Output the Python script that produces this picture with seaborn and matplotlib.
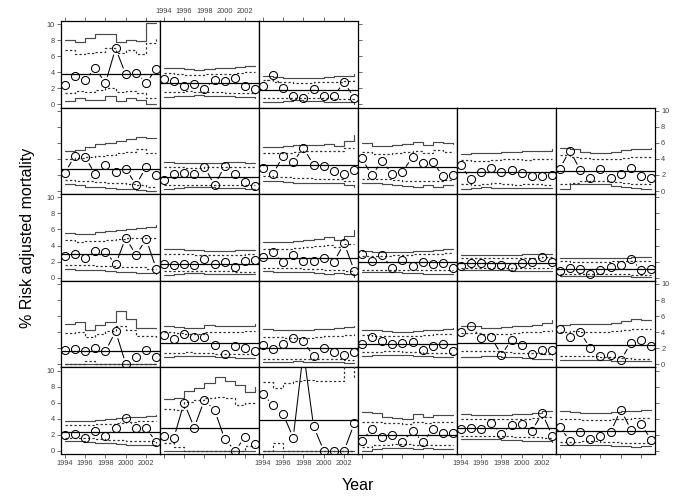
import matplotlib
matplotlib.use("Agg")
import matplotlib.pyplot as plt
import numpy as np
import pandas as pd
import seaborn as sns

YEARS = list(range(1994, 2004))
X_TICKS = [1994, 1996, 1998, 2000, 2002]
Y_TICKS = [0, 2, 4, 6, 8, 10]

# panel cells (row, col) from the top-left; top row holds only three panels
PANEL_CELLS = [(0, 0), (0, 1), (0, 2)] + [(r, c) for r in range(1, 5) for c in range(6)]

# observed risk adjusted mortality (%) per panel
OBSERVED = [
    [2.48, 3.57, 3.0, 4.58, 2.65, 7.0, 3.74, 3.95, 2.7, 4.45],
    [3.2, 2.95, 2.27, 2.6, 1.97, 3.07, 2.9, 3.28, 2.3, 1.97],
    [2.27, 3.7, 2.1, 1.1, 0.8, 1.9, 1.05, 1.1, 2.77, 0.8],
    [2.24, 4.36, 4.28, 2.07, 3.28, 2.36, 2.74, 0.78, 2.95, 1.95],
    [1.36, 2.07, 2.2, 2.07, 3.03, 0.7, 3.15, 2.07, 1.07, 0.6],
    [2.9, 2.1, 4.36, 3.65, 5.4, 3.24, 3.07, 2.53, 2.07, 2.6],
    [4.1, 1.96, 3.7, 2.17, 2.4, 4.25, 3.55, 3.6, 1.83, 1.96],
    [3.2, 1.46, 2.37, 2.9, 2.37, 2.67, 2.2, 1.83, 1.87, 2.0],
    [2.8, 5.04, 2.67, 1.58, 2.75, 1.67, 2.13, 2.9, 1.92, 1.63],
    [2.72, 2.88, 2.43, 3.3, 3.25, 1.65, 4.98, 2.8, 4.81, 1.07],
    [1.69, 1.56, 1.69, 1.56, 2.3, 1.69, 1.9, 1.32, 2.1, 2.14],
    [2.55, 3.25, 1.98, 2.76, 2.06, 2.06, 2.43, 1.98, 4.28, 0.86],
    [3.0, 2.13, 2.76, 1.18, 2.18, 1.47, 2.0, 1.68, 1.88, 1.18],
    [1.5, 1.88, 1.84, 1.59, 1.59, 1.26, 1.8, 2.0, 2.55, 2.0],
    [0.8, 1.18, 1.13, 0.47, 0.93, 1.34, 1.59, 2.34, 0.93, 1.13],
    [1.75, 1.95, 1.6, 2.05, 1.6, 4.1, 0.04, 0.95, 1.8, 0.92],
    [3.67, 3.17, 3.7, 3.38, 3.38, 2.38, 1.3, 2.25, 2.05, 1.7],
    [2.38, 1.84, 2.46, 3.3, 2.84, 1.0, 1.97, 1.5, 1.09, 1.55],
    [2.47, 3.35, 2.89, 2.51, 2.68, 2.72, 1.8, 2.26, 2.47, 1.63],
    [3.97, 4.77, 3.26, 3.35, 1.17, 3.05, 2.43, 1.3, 1.72, 1.8],
    [4.35, 3.39, 4.06, 1.97, 1.05, 1.13, 0.46, 2.68, 3.05, 2.26],
    [2.0, 2.08, 1.58, 2.5, 1.83, 2.8, 4.13, 2.83, 2.83, 1.04],
    [1.8, 1.58, 6.0, 2.88, 6.33, 5.04, 1.46, 0.0, 1.7, 0.83],
    [7.08, 5.7, 4.58, 1.63, 12.4, 3.04, 0.0, 0.0, 0.0, 3.42],
    [1.22, 2.72, 1.68, 1.97, 1.14, 2.47, 1.1, 2.68, 2.26, 2.22],
    [2.68, 2.8, 2.76, 3.5, 2.05, 3.17, 3.38, 2.51, 4.67, 1.85],
    [2.93, 1.27, 2.3, 1.47, 1.8, 2.3, 5.12, 2.63, 3.3, 1.35],
]

CENTER = [3.82, 2.65, 1.8, 2.7, 1.78, 3.2, 2.95, 2.37, 2.55, 3.0, 1.73, 2.39, 1.93,
          1.84, 1.13, 1.65, 2.67, 1.97, 2.47, 2.68, 2.43, 2.38, 2.79, 3.83, 1.97,
          2.88, 2.47]

UPPER_OUTER = [
    [8.1, 7.8, 8.3, 8.85, 8.8, 7.8, 8.1, 7.9, 10.2, 10.2],
    [4.6, 4.5, 4.4, 4.35, 4.4, 4.5, 4.55, 4.65, 4.75, 4.8],
    [3.6, 3.45, 3.35, 3.3, 3.3, 3.35, 3.45, 3.5, 3.6, 3.75],
    [5.0, 5.15, 5.5, 5.9, 6.05, 6.3, 6.5, 6.7, 6.6, 6.6],
    [3.65, 3.55, 3.5, 3.5, 3.55, 3.55, 3.6, 3.6, 3.55, 3.5],
    [5.45, 5.5, 5.65, 5.75, 5.8, 5.8, 5.85, 5.6, 6.2, 7.0],
    [5.95, 5.6, 5.65, 5.75, 5.85, 6.1, 5.75, 6.1, 5.95, 5.85],
    [4.65, 4.8, 4.75, 4.8, 4.85, 4.9, 5.0, 4.95, 5.05, 5.2],
    [5.4, 5.2, 4.9, 4.8, 4.7, 4.9, 5.1, 5.3, 5.3, 5.35],
    [5.5, 5.4, 5.45, 5.65, 5.8, 5.95, 6.05, 6.15, 6.3, 6.6],
    [3.6, 3.55, 3.45, 3.4, 3.35, 3.35, 3.35, 3.4, 3.45, 3.45],
    [4.45, 4.4, 4.4, 4.55, 4.7, 4.85, 5.1, 4.7, 5.15, 5.9],
    [3.3, 3.25, 3.2, 3.2, 3.25, 3.3, 3.35, 3.45, 3.55, 3.55],
    [2.85, 2.8, 2.8, 2.8, 2.85, 2.85, 2.9, 2.95, 2.95, 2.95],
    [2.45, 2.45, 2.4, 2.4, 2.4, 2.45, 2.5, 2.55, 2.55, 2.6],
    [5.05, 5.2, 4.3, 4.85, 5.3, 6.65, 5.65, 4.45, 4.5, 4.5],
    [4.75, 4.6, 4.45, 4.45, 4.9, 4.8, 4.7, 4.75, 4.8, 5.05],
    [4.35, 4.3, 4.25, 4.2, 4.25, 4.35, 4.4, 4.5, 4.6, 4.75],
    [4.25, 4.2, 4.1, 4.05, 4.0, 4.1, 4.2, 4.3, 4.4, 4.5],
    [4.75, 4.7, 4.55, 4.5, 4.6, 4.7, 4.75, 4.85, 5.15, 5.45],
    [4.9, 5.0, 5.05, 4.95, 5.0, 5.15, 5.35, 5.6, 5.45, 5.45],
    [3.75, 3.75, 3.75, 3.85, 3.95, 4.05, 4.15, 4.25, 4.3, 4.45],
    [6.4, 6.6, 7.4, 7.8, 8.5, 9.15, 8.75, 8.2, 7.3, 7.9],
    [12.5, 12.0, 12.3, 12.6, 12.8, 12.7, 12.7, 12.7, 14.0, 12.9],
    [4.8, 4.65, 4.2, 4.1, 4.0, 4.55, 4.2, 4.5, 4.45, 4.45],
    [4.55, 4.5, 4.5, 4.45, 4.5, 4.55, 4.6, 4.75, 4.95, 5.0],
    [4.95, 4.85, 4.75, 4.7, 4.75, 4.85, 4.9, 4.95, 5.05, 5.1],
]

UPPER_INNER = [
    [6.75, 6.35, 6.45, 6.55, 7.05, 6.4, 6.75, 6.35, 7.7, 8.2],
    [3.9, 3.75, 3.65, 3.65, 3.75, 3.8, 3.85, 3.95, 4.0, 4.05],
    [3.0, 2.85, 2.75, 2.7, 2.7, 2.75, 2.8, 2.85, 2.95, 3.1],
    [4.0, 4.1, 4.25, 4.4, 4.55, 4.7, 4.85, 5.2, 4.8, 4.8],
    [3.0, 2.95, 2.9, 2.9, 2.95, 2.95, 3.0, 3.0, 2.95, 2.95],
    [4.7, 4.7, 4.8, 4.9, 4.95, 4.95, 5.0, 4.95, 5.35, 5.35],
    [4.9, 4.65, 4.65, 4.75, 4.85, 5.05, 4.8, 5.1, 4.9, 4.85],
    [3.9, 3.8, 3.75, 3.85, 3.95, 4.0, 3.9, 3.95, 4.05, 4.05],
    [4.45, 4.25, 4.1, 4.0, 3.95, 4.05, 4.15, 4.2, 4.2, 4.25],
    [4.75, 4.45, 4.55, 4.6, 4.7, 4.8, 4.9, 4.95, 5.0, 5.05],
    [3.0, 2.95, 2.9, 2.85, 2.8, 2.8, 2.8, 2.85, 2.9, 2.9],
    [3.6, 3.55, 3.6, 3.7, 3.8, 3.9, 4.05, 3.85, 4.15, 4.25],
    [2.75, 2.75, 2.75, 2.8, 2.85, 2.9, 2.95, 3.0, 3.05, 3.1],
    [2.45, 2.4, 2.4, 2.4, 2.45, 2.45, 2.5, 2.5, 2.55, 2.55],
    [2.05, 2.0, 2.0, 2.0, 2.0, 2.05, 2.05, 2.1, 2.1, 2.1],
    [3.9, 3.95, 3.4, 3.8, 4.1, 4.8, 4.3, 3.5, 3.55, 3.3],
    [4.0, 3.85, 3.75, 3.8, 4.0, 4.05, 4.0, 4.05, 4.1, 4.1],
    [3.35, 3.35, 3.3, 3.3, 3.3, 3.4, 3.45, 3.55, 3.6, 3.7],
    [3.6, 3.55, 3.5, 3.45, 3.45, 3.5, 3.6, 3.7, 3.75, 3.8],
    [3.9, 3.85, 3.75, 3.75, 3.8, 3.85, 3.95, 4.0, 4.1, 4.2],
    [4.05, 4.1, 4.05, 4.0, 4.05, 4.15, 4.25, 4.35, 4.35, 4.4],
    [3.25, 3.25, 3.25, 3.3, 3.35, 3.5, 3.6, 3.65, 3.65, 3.65],
    [5.15, 5.1, 6.1, 6.3, 6.6, 6.7, 6.55, 5.7, 5.9, 6.0],
    [8.6, 7.85, 8.45, 8.65, 8.85, 8.75, 8.75, 8.75, 11.5, 8.9],
    [3.6, 3.55, 3.4, 3.4, 3.35, 3.6, 3.45, 3.6, 3.55, 3.55],
    [3.95, 3.9, 3.9, 3.9, 3.9, 3.95, 4.0, 4.1, 4.2, 4.25],
    [3.95, 3.9, 3.85, 3.85, 3.85, 3.95, 4.0, 4.05, 4.1, 4.1],
]

LOWER_INNER = [
    [1.4, 1.65, 1.5, 1.75, 2.0, 1.5, 1.7, 1.45, 0.85, 0.85],
    [1.55, 1.6, 1.65, 1.6, 1.55, 1.5, 1.45, 1.45, 1.4, 1.35],
    [0.75, 0.8, 0.85, 0.85, 0.8, 0.75, 0.75, 0.7, 0.65, 0.6],
    [1.35, 1.3, 1.2, 1.1, 1.0, 0.95, 0.85, 0.75, 0.5, 0.6],
    [0.75, 0.8, 0.8, 0.8, 0.8, 0.75, 0.75, 0.7, 0.7, 0.7],
    [1.85, 1.8, 1.75, 1.65, 1.6, 1.55, 1.5, 1.45, 1.3, 1.3],
    [1.45, 1.5, 1.45, 1.35, 1.3, 1.2, 1.3, 1.2, 1.35, 1.4],
    [0.85, 0.75, 0.9, 0.95, 0.85, 0.8, 0.85, 0.85, 0.75, 0.75],
    [0.9, 1.05, 1.2, 1.25, 1.25, 1.15, 1.05, 0.9, 0.9, 0.9],
    [1.6, 1.6, 1.55, 1.5, 1.4, 1.3, 1.35, 1.3, 1.1, 1.1],
    [0.8, 0.8, 0.85, 0.85, 0.8, 0.8, 0.8, 0.75, 0.75, 0.75],
    [1.25, 1.2, 1.2, 1.15, 1.1, 1.05, 0.95, 1.0, 0.85, 0.85],
    [1.0, 1.0, 1.0, 1.0, 0.95, 0.95, 0.95, 0.95, 0.9, 0.9],
    [1.2, 1.2, 1.2, 1.2, 1.2, 1.15, 1.15, 1.15, 1.15, 1.15],
    [0.45, 0.5, 0.5, 0.5, 0.45, 0.4, 0.4, 0.35, 0.35, 0.35],
    [0.0, 0.0, 0.4, 0.0, 0.0, 0.0, 0.0, 0.0, 0.0, 0.0],
    [1.45, 1.45, 1.5, 1.45, 1.45, 1.3, 1.3, 1.3, 1.25, 1.25],
    [0.65, 0.65, 0.65, 0.65, 0.6, 0.6, 0.6, 0.6, 0.55, 0.55],
    [1.55, 1.55, 1.6, 1.6, 1.55, 1.5, 1.45, 1.4, 1.35, 1.3],
    [1.6, 1.6, 1.65, 1.6, 1.5, 1.45, 1.4, 1.35, 1.25, 1.2],
    [1.05, 1.05, 1.05, 1.0, 0.95, 0.9, 0.8, 0.7, 0.65, 0.65],
    [1.55, 1.55, 1.55, 1.45, 1.35, 1.3, 1.25, 1.2, 1.2, 1.0],
    [0.9, 0.5, 0.0, 0.0, 0.0, 0.0, 0.0, 0.0, 0.6, 0.6],
    [0.0, 0.9, 0.0, 0.0, 0.0, 0.0, 0.0, 0.0, 0.0, 0.0],
    [0.4, 0.65, 0.75, 0.8, 0.8, 0.7, 0.75, 0.65, 0.7, 0.7],
    [1.85, 1.85, 1.85, 1.85, 1.8, 1.75, 1.7, 1.65, 1.6, 1.55],
    [1.1, 1.1, 1.15, 1.15, 1.1, 1.05, 1.0, 0.95, 0.9, 0.9],
]

LOWER_OUTER = [
    [0.45, 0.8, 0.6, 0.5, 1.0, 0.45, 0.75, 0.5, 0.0, 0.0],
    [0.95, 1.05, 1.1, 1.15, 1.1, 1.05, 1.0, 0.95, 0.9, 0.85],
    [0.35, 0.35, 0.45, 0.5, 0.45, 0.4, 0.35, 0.3, 0.25, 0.1],
    [0.85, 0.75, 0.55, 0.45, 0.35, 0.3, 0.2, 0.1, 0.05, 0.05],
    [0.3, 0.4, 0.45, 0.45, 0.45, 0.4, 0.35, 0.35, 0.3, 0.3],
    [1.3, 1.25, 1.15, 1.05, 1.0, 1.0, 0.95, 1.0, 0.75, 0.5],
    [0.95, 0.95, 0.85, 0.75, 0.65, 0.55, 0.7, 0.55, 0.7, 0.75],
    [0.3, 0.35, 0.5, 0.4, 0.35, 0.35, 0.35, 0.35, 0.35, 0.35],
    [0.3, 0.85, 0.9, 0.9, 0.85, 0.65, 0.5, 0.35, 0.3, 0.3],
    [1.05, 1.0, 0.95, 0.9, 0.85, 0.75, 0.7, 0.6, 0.55, 0.4],
    [0.35, 0.5, 0.55, 0.55, 0.5, 0.45, 0.45, 0.4, 0.4, 0.45],
    [0.8, 0.75, 0.75, 0.7, 0.65, 0.6, 0.5, 0.55, 0.4, 0.1],
    [0.7, 0.7, 0.7, 0.65, 0.6, 0.55, 0.5, 0.45, 0.4, 0.4],
    [0.9, 0.9, 0.9, 0.9, 0.9, 0.85, 0.85, 0.85, 0.85, 0.85],
    [0.2, 0.2, 0.25, 0.25, 0.2, 0.15, 0.15, 0.1, 0.1, 0.1],
    [0.0, 0.0, 0.0, 0.0, 0.0, 0.0, 0.0, 0.0, 0.0, 0.0],
    [0.95, 1.05, 1.05, 1.05, 1.0, 0.9, 0.85, 0.8, 0.8, 0.8],
    [0.3, 0.3, 0.3, 0.35, 0.3, 0.3, 0.25, 0.25, 0.2, 0.2],
    [1.05, 1.1, 1.15, 1.15, 1.1, 1.05, 1.0, 0.95, 0.9, 0.85],
    [0.9, 0.95, 1.0, 1.0, 0.95, 0.85, 0.75, 0.65, 0.6, 0.55],
    [0.55, 0.55, 0.55, 0.55, 0.5, 0.45, 0.4, 0.35, 0.35, 0.35],
    [1.15, 1.15, 1.1, 1.0, 0.9, 0.85, 0.7, 0.65, 0.65, 0.6],
    [0.0, 0.0, 0.0, 0.0, 0.0, 0.0, 0.0, 0.0, 0.0, 0.0],
    [0.0, 0.0, 0.0, 0.0, 0.0, 0.0, 0.0, 0.0, 0.0, 0.0],
    [0.0, 0.25, 0.3, 0.3, 0.3, 0.25, 0.3, 0.2, 0.2, 0.2],
    [1.4, 1.4, 1.4, 1.4, 1.35, 1.3, 1.25, 1.2, 1.15, 1.1],
    [0.7, 0.7, 0.75, 0.75, 0.7, 0.6, 0.55, 0.5, 0.55, 0.55],
]

Y_LABEL = "% Risk adjusted mortality"
X_LABEL = "Year"

# ---------------------------------------------------------------- styling
sns.set_style("white")
plt.rcParams["font.family"] = ["Liberation Sans", "DejaVu Sans"]

W, H = 685, 503
fig = plt.figure(figsize=(W / 100, H / 100), dpi=100)
LEFT, TOP, PW, PH = 61.0, 21.1, 99.0, 86.56

LIMIT_COLOR = "#4a4a4a"
DOT_COLOR = "#333333"
TICK_COLOR = "#555555"
LABEL_COLOR = "#444444"

for i, (r, c) in enumerate(PANEL_CELLS):
    x0 = (LEFT + c * PW) / W
    y0 = 1 - (TOP + (r + 1) * PH) / H
    ax = fig.add_axes([x0, y0, PW / W, PH / H])

    df = pd.DataFrame({
        "year": YEARS,
        "obs": OBSERVED[i],
        "uo": UPPER_OUTER[i],
        "ui": UPPER_INNER[i],
        "li": LOWER_INNER[i],
        "lo": LOWER_OUTER[i],
    })

    # observed series: connecting line, then a white halo so the line stops short of the circles
    sns.lineplot(data=df, x="year", y="obs", ax=ax, color="black", lw=0.75,
                 estimator=None, sort=False, zorder=1)
    ax.plot(df["year"], df["obs"], ls="none", marker="o", ms=8.8,
            mfc="white", mec="white", zorder=2)

    for col, ls, colr, lw in (("uo", "-", LIMIT_COLOR, 0.85), ("lo", "-", LIMIT_COLOR, 0.85),
                              ("ui", (0, (1.8, 1.8)), DOT_COLOR, 0.9),
                              ("li", (0, (1.8, 1.8)), DOT_COLOR, 0.9)):
        sns.lineplot(data=df, x="year", y=col, ax=ax, color=colr, lw=lw,
                     ls=ls, drawstyle="steps-post", estimator=None, sort=False, zorder=3)

    ax.axhline(CENTER[i], color="black", lw=0.9, zorder=3)

    ax.plot(df["year"], df["obs"], ls="none", marker="o", ms=5.8,
            mfc="none", mec="black", mew=0.75, zorder=4)

    ax.set_xlim(1993.64, 2003.36)
    ax.set_ylim(-0.4, 10.4)
    ax.set_xlabel("")
    ax.set_ylabel("")
    ax.set_xticks(X_TICKS)
    ax.set_yticks(Y_TICKS)
    for s in ax.spines.values():
        s.set_color("black")
        s.set_linewidth(0.9)

    ax.tick_params(which="both", direction="out", length=2.6, width=0.6,
                   color=TICK_COLOR, labelcolor=LABEL_COLOR, labelsize=5.3, pad=1.8,
                   left=False, right=False, top=False, bottom=False,
                   labelleft=False, labelright=False, labeltop=False, labelbottom=False)

    last_col = 2 if r == 0 else 5
    if c == 0:
        ax.tick_params(axis="y", left=True, labelleft=(r % 2 == 0))
    if c == last_col:
        ax.tick_params(axis="y", right=True, labelright=(r % 2 == 1))
    if r == 4:
        ax.tick_params(axis="x", bottom=True, labelbottom=(c % 2 == 0))
    if r == 0:
        ax.tick_params(axis="x", top=True, labeltop=(c % 2 == 1))

fig.text(28 / W, 1 - (TOP + 2.5 * PH) / H, Y_LABEL, rotation=90, ha="center",
         va="center", fontsize=11.5, color="black")
fig.text((LEFT + 3 * PW) / W, 1 - 486 / H, X_LABEL, ha="center", va="center",
         fontsize=11.5, color="black")

fig.savefig("out.png", dpi=100)
